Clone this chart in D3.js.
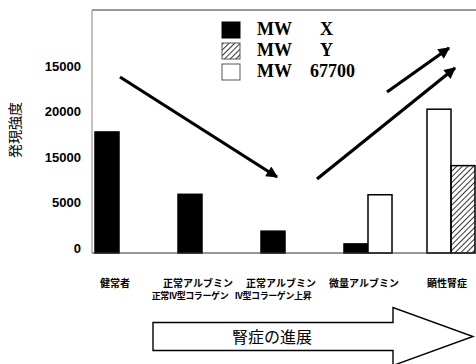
<!DOCTYPE html>
<html>
<head>
<meta charset="utf-8">
<script src="https://cdn.jsdelivr.net/npm/d3@7"></script>
<style>
  body { margin: 0; background: #fff; }
  svg { display: block; }
</style>
</head>
<body>
<script>
// données du graphique
const categories = ["健常者", "正常アルブミン", "正常アルブミン", "微量アルブミン", "顕性腎症"];
const categoryIds = ["c0", "c1", "c2", "c3", "c4"];
const subLabels = ["", "正常IV型コラーゲン", "IV型コラーゲン上昇", "", ""];
const valuesX = [13300, 6450, 2400, 1000, 0];
const values67700 = [0, 0, 0, 6400, 15800];
const valuesY = [0, 0, 0, 0, 9600];
const tickValues = [0, 5000, 10000, 15000, 20000];
const tickLabels = ["0", "5000", "15000", "20000", "15000"];
const legendNames = ["X", "Y", "67700"];

const largeur = 476;
const hauteur = 364;

const svg = d3.select("body").append("svg")
    .attr("width", largeur)
    .attr("height", hauteur);

// hachures pour la série Y
const defs = svg.append("defs");
defs.append("pattern")
    .attr("id", "hach")
    .attr("patternUnits", "userSpaceOnUse")
    .attr("width", 4)
    .attr("height", 4)
    .attr("patternTransform", "rotate(45)")
    .append("line")
    .attr("x1", 0).attr("y1", 0)
    .attr("x2", 0).attr("y2", 4)
    .attr("stroke", "black")
    .attr("stroke-width", 1.6);

defs.append("marker")
    .attr("id", "pointe")
    .attr("viewBox", "0 0 10 10")
    .attr("refX", 9).attr("refY", 5)
    .attr("markerWidth", 4.2).attr("markerHeight", 3.6)
    .attr("orient", "auto")
    .attr("markerUnits", "strokeWidth")
    .append("path")
    .attr("d", "M0,0 L10,5 L0,10 Z")
    .attr("fill", "black");

const gauche = 92, haut = 10, bas = 253;
const barW = 24;

const x = d3.scaleBand().domain(categoryIds).range([95, 95 + 83 * 5]);
const y = d3.scaleLinear().domain([0, 26700]).range([bas, haut]);

// cadre
svg.append("line").attr("x1", gauche).attr("x2", largeur).attr("y1", haut).attr("y2", haut)
    .attr("stroke", "#333").attr("stroke-width", 1.2);
svg.append("line").attr("x1", gauche).attr("x2", gauche).attr("y1", haut).attr("y2", bas)
    .attr("stroke", "#999").attr("stroke-width", 1.2);

// axe Y
const axeY = d3.axisLeft(y).tickValues(tickValues).tickSize(0).tickPadding(11)
    .tickFormat((d, i) => tickLabels[i]);
const gY = svg.append("g").attr("transform", `translate(${gauche},0)`).call(axeY);
gY.select(".domain").remove();
gY.selectAll("text")
    .attr("dy", "-0.05em")
    .style("font-family", "'Liberation Sans', Arial, sans-serif")
    .style("font-weight", "bold")
    .style("font-size", "13px")
    .attr("fill", "#000");

svg.append("text")
    .attr("transform", "translate(20,130) rotate(-90)")
    .attr("text-anchor", "middle")
    .style("font-family", "'Noto Sans CJK JP', sans-serif")
    .style("font-size", "14px")
    .text("発現強度");

// barres
const series = [
    { name: "X", values: valuesX, fill: "black" },
    { name: "67700", values: values67700, fill: "white" },
    { name: "Y", values: valuesY, fill: "url(#hach)" }
];

categoryIds.forEach((c, i) => {
    let slot = 0;
    series.forEach(s => {
        const v = s.values[i];
        if (v > 0) {
            svg.append("rect")
                .attr("x", x(c) + slot * barW)
                .attr("y", y(v))
                .attr("width", barW)
                .attr("height", bas - y(v))
                .attr("fill", s.fill)
                .attr("stroke", "black")
                .attr("stroke-width", 1.5);
            slot++;
        }
    });
});

// axe X
svg.append("line").attr("x1", gauche).attr("x2", largeur).attr("y1", bas).attr("y2", bas)
    .attr("stroke", "#333").attr("stroke-width", 1.2);

categoryIds.forEach((c, i) => {
    svg.append("text")
        .attr("x", x(c) + 20)
        .attr("y", 287)
        .attr("text-anchor", "middle")
        .style("font-family", "'Noto Sans CJK JP', sans-serif")
        .style("font-size", "10px")
        .style("font-weight", "bold")
        .text(categories[i]);
    if (subLabels[i]) {
        svg.append("text")
            .attr("x", x(c) + 12)
            .attr("y", 299)
            .attr("text-anchor", "middle")
            .style("font-family", "'Noto Sans CJK JP', sans-serif")
            .style("font-size", "9px")
            .style("font-weight", "bold")
            .style("letter-spacing", "-0.4px")
            .text(subLabels[i]);
    }
});

// légende
const legendFill = { "X": "black", "Y": "url(#hach)", "67700": "white" };
legendNames.forEach((n, i) => {
    const ly = 22 + i * 21;
    svg.append("rect")
        .attr("x", 222).attr("y", ly)
        .attr("width", 18).attr("height", 16)
        .attr("fill", legendFill[n])
        .attr("stroke", n === "X" ? "black" : "#555")
        .attr("stroke-width", 1);
    svg.append("text")
        .attr("x", 257).attr("y", ly + 13)
        .style("font-family", "'Liberation Serif', 'Times New Roman', serif")
        .style("font-weight", "bold")
        .style("font-size", "18px")
        .text("MW");
    svg.append("text")
        .attr("x", n === "67700" ? 310 : 320).attr("y", ly + 13)
        .style("font-family", "'Liberation Serif', 'Times New Roman', serif")
        .style("font-weight", "bold")
        .style("font-size", "18px")
        .text(n);
});

// flèches
const fleches = [
    [120, 77, 277, 177],
    [317, 179, 455, 68],
    [387, 92, 449, 48]
];
fleches.forEach(f => {
    svg.append("line")
        .attr("x1", f[0]).attr("y1", f[1])
        .attr("x2", f[2]).attr("y2", f[3])
        .attr("stroke", "black")
        .attr("stroke-width", 3.2)
        .attr("marker-end", "url(#pointe)");
});

// grosse flèche : progression
const fy = 336.5;
svg.append("path")
    .attr("d", `M153,${fy - 14} L393,${fy - 14} L393,${fy - 29} L473,${fy} L393,${fy + 29} L393,${fy + 14} L153,${fy + 14} Z`)
    .attr("fill", "white")
    .attr("stroke", "black")
    .attr("stroke-width", 1.4);
svg.append("text")
    .attr("x", 272).attr("y", fy + 6)
    .attr("text-anchor", "middle")
    .style("font-family", "'Noto Sans CJK JP', sans-serif")
    .style("font-size", "16px")
    .text("腎症の進展");
</script>
</body>
</html>
